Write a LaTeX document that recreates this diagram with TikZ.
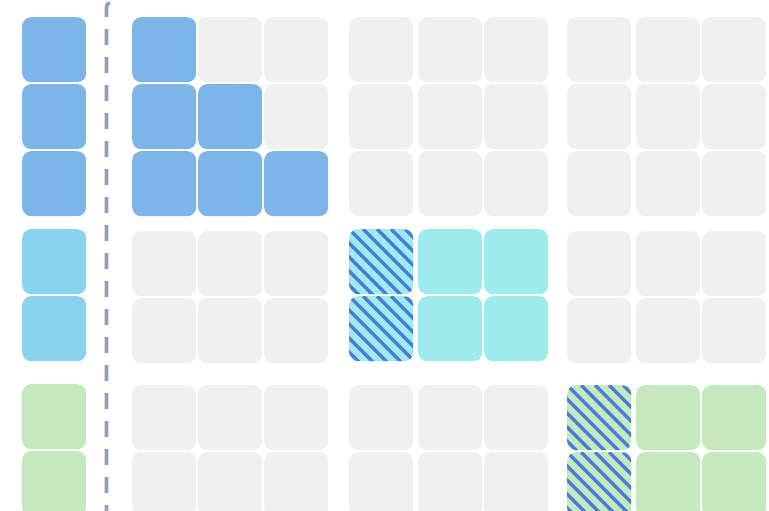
\documentclass[tikz,border=0pt]{standalone}
\definecolor{cblue}{HTML}{7DB5E9}
\definecolor{clblue}{HTML}{88D3EE}
\definecolor{ccyan}{HTML}{9DEBED}
\definecolor{cgreen}{HTML}{C5E8BF}
\definecolor{cgray}{HTML}{F0F0F0}
\definecolor{cstripe}{HTML}{4A7BDA}
\definecolor{cdash}{HTML}{8E9CC0}
\begin{document}
\begin{tikzpicture}[x=1pt,y=-1pt,
  cell/.style={rectangle,rounded corners=9pt,minimum width=64pt,minimum height=65pt,inner sep=0pt,anchor=north west,draw=none},
  hatch/.style={path picture={\foreach \i in {-7,...,7}{\draw[draw=cstripe,line width=3.2pt] ([xshift=\i*14pt]path picture bounding box.north west) -- ++(80pt,-80pt);}}},
  divider/.style={draw=cdash,line width=3.6pt,dash pattern=on 16pt off 12pt}
]
\useasboundingbox (0,0) rectangle (769,511);
% left column
\foreach \y/\c/\n in {17/cblue/l1,84/cblue/l2,151/cblue/l3,229/clblue/l4,296/clblue/l5,384/cgreen/l6,451/cgreen/l7}
  \node[cell,fill=\c] (\n) at (22,\y) {};
% divider
\coordinate (dtop) at (110,3);
\coordinate (dbot) at (106.5,515);
\draw[divider] (dtop) .. controls (106.5,4) .. (106.5,12) -- (dbot);
% group 1
\foreach \x/\y/\c/\n in {
  132/17/cblue/a11, 198/17/cgray/a12, 264/17/cgray/a13,
  132/84/cblue/a21, 198/84/cblue/a22, 264/84/cgray/a23,
  132/151/cblue/a31, 198/151/cblue/a32, 264/151/cblue/a33,
  132/231/cgray/a41, 198/231/cgray/a42, 264/231/cgray/a43,
  132/298/cgray/a51, 198/298/cgray/a52, 264/298/cgray/a53,
  132/385/cgray/a61, 198/385/cgray/a62, 264/385/cgray/a63,
  132/452/cgray/a71, 198/452/cgray/a72, 264/452/cgray/a73}
  \node[cell,fill=\c] (\n) at (\x,\y) {};
% group 2
\foreach \x/\y/\c/\n in {
  349/17/cgray/b11, 418/17/cgray/b12, 484/17/cgray/b13,
  349/84/cgray/b21, 418/84/cgray/b22, 484/84/cgray/b23,
  349/151/cgray/b31, 418/151/cgray/b32, 484/151/cgray/b33,
  418/229/ccyan/b42, 484/229/ccyan/b43,
  418/296/ccyan/b52, 484/296/ccyan/b53,
  349/385/cgray/b61, 418/385/cgray/b62, 484/385/cgray/b63,
  349/452/cgray/b71, 418/452/cgray/b72, 484/452/cgray/b73}
  \node[cell,fill=\c] (\n) at (\x,\y) {};
\node[cell,fill=ccyan,hatch] (b41) at (349,229) {};
\node[cell,fill=ccyan,hatch] (b51) at (349,296) {};
% group 3
\foreach \x/\y/\c/\n in {
  567/17/cgray/c11, 636/17/cgray/c12, 702/17/cgray/c13,
  567/84/cgray/c21, 636/84/cgray/c22, 702/84/cgray/c23,
  567/151/cgray/c31, 636/151/cgray/c32, 702/151/cgray/c33,
  567/231/cgray/c41, 636/231/cgray/c42, 702/231/cgray/c43,
  567/298/cgray/c51, 636/298/cgray/c52, 702/298/cgray/c53,
  636/385/cgreen/c62, 702/385/cgreen/c63,
  636/452/cgreen/c72, 702/452/cgreen/c73}
  \node[cell,fill=\c] (\n) at (\x,\y) {};
\node[cell,fill=cgreen,hatch] (c61) at (567,385) {};
\node[cell,fill=cgreen,hatch] (c71) at (567,452) {};
\end{tikzpicture}
\end{document}
